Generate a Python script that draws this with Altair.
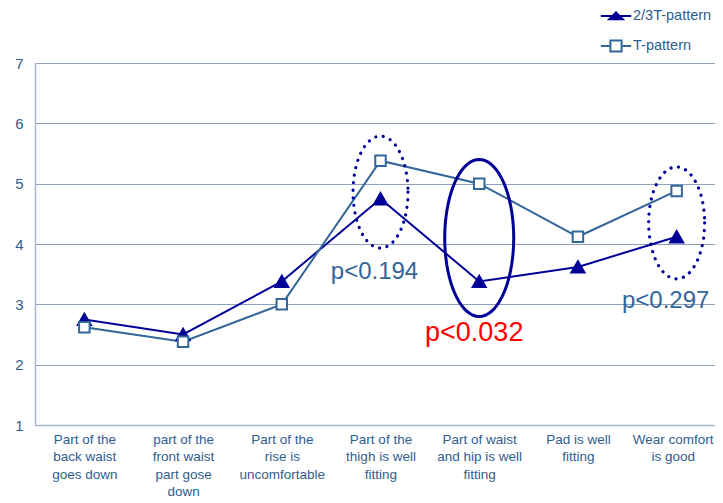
import math
import altair as alt
import pandas as pd

# ---------------- data ----------------
categories = [
    "Part of the\nback waist\ngoes down",
    "part of the\nfront waist\npart gose\ndown",
    "Part of the\nrise is\nuncomfortable",
    "Part of the\nthigh is well\nfitting",
    "Part of waist\nand hip is well\nfitting",
    "Pad is well\nfitting",
    "Wear comfort\nis good",
]
series_names = ["2/3T-pattern", "T-pattern"]
values_23t = [2.75, 2.50, 3.38, 4.75, 3.38, 3.62, 4.12]
values_t = [2.62, 2.38, 3.00, 5.38, 5.00, 4.12, 4.88]

# annotations (ellipse centres and p-value labels, in data units)
ellipse_categories = [categories[3], categories[4], categories[6]]
ellipse_centres = [4.86, 4.10, 4.35]
p_labels = ["p<0.194", "p<0.032", "p<0.297"]
p_label_values = [3.42, 2.40, 2.94]

# ---------------- styling ----------------
NAVY = "#000099"
STEEL = "#336699"
TXT = "#2F5E8E"
FONT = "Liberation Sans"
NARROW = "'Liberation Sans Narrow', 'Liberation Sans', Arial"

df = pd.DataFrame({
    "category": categories * 2,
    "series": [series_names[0]] * len(categories) + [series_names[1]] * len(categories),
    "value": values_23t + values_t,
})

x_enc = alt.X("category:N", sort=categories, title=None,
              scale=alt.Scale(padding=0.5, range=[0, 691]),
              axis=alt.Axis(labelAngle=0, labelExpr="split(datum.label, '\\n')",
                            labelFont=NARROW, labelFontSize=13.5, labelColor=TXT,
                            labelLineHeight=17.5, labelPadding=7, labelBaseline="top",
                            labelOffset={"condition": {"test": "indexof(datum.label, 'Wear') == 0", "value": -4}, "value": 0},
                            labelLimit=200, ticks=False, grid=False,
                            domainColor="#A9B4C9", domainWidth=1.5))
y_enc = alt.Y("value:Q", title=None,
              scale=alt.Scale(domain=[1, 7], nice=False, zero=False),
              axis=alt.Axis(values=[1, 2, 3, 4, 5, 6, 7], labelFont=FONT, labelFontSize=15,
                            labelColor=TXT, labelPadding=12, ticks=False,
                            grid=True, gridColor="#8E9FC0", gridWidth=1,
                            domainColor="#A9B4C9", domainWidth=1.5))

base = alt.Chart(df)

lines = base.mark_line(strokeWidth=2).encode(
    x=x_enc, y=y_enc,
    color=alt.Color("series:N", scale=alt.Scale(domain=series_names, range=[NAVY, STEEL]), legend=None),
)

points = base.mark_point(filled=True, strokeWidth=2, opacity=1).encode(
    x=x_enc, y=y_enc,
    shape=alt.Shape("series:N", scale=alt.Scale(domain=series_names, range=["triangle-up", "square"]), legend=None),
    fill=alt.Fill("series:N", scale=alt.Scale(domain=series_names, range=[NAVY, "white"]), legend=None),
    stroke=alt.Stroke("series:N", scale=alt.Scale(domain=series_names, range=[NAVY, STEEL]), legend=None),
    size=alt.Size("series:N", scale=alt.Scale(domain=series_names, range=[170, 110]), legend=None),
)


def ellipse_path(rx, ry=1.0, n=72):
    pts = []
    for i in range(n):
        t = 2 * math.pi * i / n
        pts.append(f"{rx * math.cos(t):.4f},{ry * math.sin(t):.4f}")
    return "M" + "L".join(pts) + "Z"


# (pixel width, pixel height, dotted?)
ellipse_styles = [(55, 112, True), (69, 157, False), (56, 112, True)]
ellipse_layers = []
for cat, yc, (w, h, dotted) in zip(ellipse_categories, ellipse_centres, ellipse_styles):
    edf = pd.DataFrame({"category": [cat], "value": [yc]})
    props = dict(shape=ellipse_path(w / h), size=h * h, filled=False, stroke=NAVY, opacity=1)
    if dotted:
        props.update(strokeWidth=3.2, strokeDash=[0.1, 7.5], strokeCap="round")
    else:
        props.update(strokeWidth=3)
    ellipse_layers.append(alt.Chart(edf).mark_point(**props).encode(x=x_enc, y=y_enc))

text_styles = [(STEEL, 24, -6), ("#FF0000", 27, -5), (STEEL, 24, -11)]
text_layers = []
for cat, lab, yv, (col, fs, dx) in zip(ellipse_categories, p_labels, p_label_values, text_styles):
    tdf = pd.DataFrame({"category": [cat], "value": [yv], "label": [lab]})
    text_layers.append(
        alt.Chart(tdf).mark_text(font=FONT, fontSize=fs, color=col, dx=dx,
                                 align="center", baseline="alphabetic")
        .encode(x=x_enc, y=y_enc, text="label:N")
    )

# legend carrier (marks themselves hidden above the view)
tri_path = "M-1.9,0L1.9,0M0,-0.45L0.85,0.42L-0.85,0.42Z"
sq_path = "M-1.9,0L-0.7,0M0.7,0L1.9,0M-0.7,-0.7L0.7,-0.7L0.7,0.7L-0.7,0.7Z"
leg = alt.Legend(title=None, orient="none", legendX=572, legendY=-56, padding=0,
                 symbolSize=256, rowPadding=12, labelOffset=8,
                 labelFont=FONT, labelFontSize=14.5, labelColor=TXT, symbolStrokeWidth=2,
                 labelLimit=200)
legend_layer = base.mark_point(filled=True, strokeWidth=2, clip=True, opacity=1).encode(
    x=x_enc, y=alt.value(-500),
    shape=alt.Shape("series:N", scale=alt.Scale(domain=series_names, range=[tri_path, sq_path]), legend=leg),
    fill=alt.Fill("series:N", scale=alt.Scale(domain=series_names, range=[NAVY, "white"]), legend=leg),
    stroke=alt.Stroke("series:N", scale=alt.Scale(domain=series_names, range=[NAVY, STEEL]), legend=leg),
)

chart = alt.layer(lines, *ellipse_layers, points, *text_layers, legend_layer).resolve_scale(
    shape="independent", fill="independent", stroke="independent", size="independent"
).properties(
    width=680, height=362,
    autosize=alt.AutoSizeParams(type="none"),
    padding={"left": 27, "top": 55, "right": 0, "bottom": 73},
).configure_view(stroke=None)

chart.save("out.html", embed_options={"renderer": "svg", "actions": False})
